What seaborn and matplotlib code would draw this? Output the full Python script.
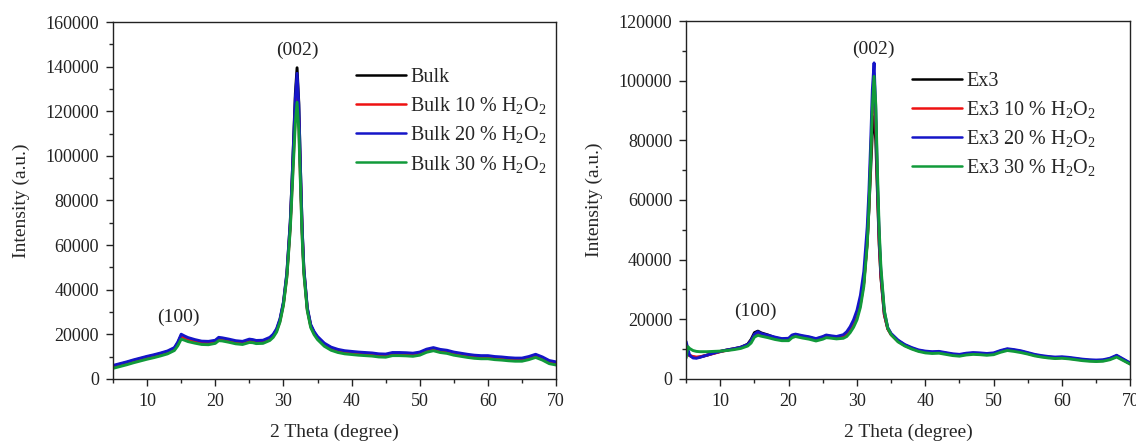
import matplotlib
matplotlib.use("Agg")
import matplotlib.pyplot as plt
import seaborn as sns
import pandas as pd
from matplotlib.ticker import MultipleLocator

# ---- diffraction patterns: 2-theta (degree) and intensity (a.u.) ----
two_theta_bulk = [5, 6, 7, 8, 9, 10, 11, 12, 13, 14, 14.5, 15, 15.5, 16, 17, 18, 19, 20, 20.5, 21,
                  22, 23, 24, 25, 25.5, 26, 27, 28, 28.5, 29, 29.5, 30, 30.5, 31, 31.25, 31.5, 31.75,
                  32, 32.25, 32.5, 32.75, 33, 33.5, 34, 34.5, 35, 36, 37, 38, 39, 40, 41, 42, 43, 44,
                  45, 46, 47, 48, 49, 50, 51, 52, 53, 54, 55, 56, 57, 58, 59, 60, 61, 62, 63, 64, 65,
                  66, 67, 68, 69, 70]

bulk = [5700, 6500, 7300, 8200, 9000, 9800, 10500, 11300, 12200, 13700, 16000, 19500, 18800, 18100,
        17200, 16500, 16400, 16900, 18200, 18000, 17400, 16700, 16400, 17400, 17200, 16800, 16900,
        18200, 19600, 22000, 26500, 34000, 47000, 70000, 88000, 108000, 128000, 139500, 124000, 94000,
        67000, 49000, 31500, 24000, 20800, 18600, 15600, 13800, 12800, 12200, 11900, 11600, 11400,
        11200, 10800, 10700, 11400, 11400, 11300, 11100, 11600, 12900, 13600, 12800, 12400, 11600,
        11100, 10600, 10200, 10000, 10000, 9600, 9400, 9100, 8900, 8900, 9600, 10600, 9400, 7800, 7200]
bulk_10 = [5300, 6100, 6900, 7800, 8600, 9400, 10100, 10900, 11800, 13300, 15600, 19000, 18300, 17600,
           16700, 16100, 16000, 16500, 17800, 17600, 17000, 16300, 16000, 17000, 16800, 16400, 16500,
           17800, 19200, 21600, 26000, 33500, 46000, 68000, 85000, 102000, 119000, 128000, 116000, 89000,
           65000, 48000, 31000, 23600, 20400, 18200, 15200, 13400, 12400, 11800, 11500, 11200, 11000,
           10800, 10400, 10300, 11000, 11000, 10900, 10700, 11200, 12500, 13200, 12400, 12000, 11200,
           10700, 10200, 9800, 9600, 9600, 9200, 9000, 8700, 8500, 8500, 9200, 10200, 9000, 7400, 6800]
bulk_20 = [6000, 6800, 7600, 8500, 9300, 10100, 10800, 11600, 12500, 14000, 16500, 20000, 19200, 18500,
           17600, 16900, 16800, 17300, 18600, 18400, 17800, 17100, 16800, 17800, 17600, 17200, 17300,
           18600, 20000, 22500, 27000, 34500, 47500, 70500, 88000, 107000, 126000, 137000, 123000, 94000,
           67500, 49500, 32000, 24400, 21200, 19000, 16000, 14200, 13200, 12600, 12300, 12000, 11800,
           11600, 11200, 11100, 11800, 11800, 11700, 11500, 12000, 13300, 14000, 13200, 12800, 12000,
           11500, 11000, 10600, 10400, 10400, 10000, 9800, 9500, 9300, 9300, 10000, 11000, 9800, 8200, 7600]
bulk_30 = [4700, 5500, 6300, 7200, 8000, 8800, 9500, 10300, 11200, 12700, 14800, 17800, 17300, 16700,
           16000, 15400, 15300, 15900, 17100, 17000, 16400, 15700, 15400, 16300, 16200, 15800, 15900,
           17200, 18600, 21000, 25500, 33000, 45500, 67000, 83000, 99000, 115000, 124000, 112000, 87000,
           63000, 47000, 30500, 23000, 19800, 17600, 14600, 12800, 11800, 11200, 10900, 10600, 10400,
           10200, 9800, 9700, 10400, 10400, 10300, 10100, 10600, 11900, 12600, 11800, 11400, 10600,
           10100, 9600, 9200, 9000, 9000, 8600, 8400, 8100, 7900, 7900, 8600, 9600, 8400, 6800, 6200]

two_theta_ex3 = [5, 5.25, 5.5, 6, 6.5, 7, 8, 9, 10, 11, 12, 13, 14, 14.5, 15, 15.5, 16, 17, 18, 19, 20,
                 20.5, 21, 22, 23, 24, 25, 25.5, 26, 27, 28, 28.5, 29, 29.5, 30, 30.5, 31, 31.5, 31.75,
                 32, 32.25, 32.5, 32.75, 33, 33.25, 33.5, 34, 34.5, 35, 36, 37, 38, 39, 40, 41, 42, 43,
                 44, 45, 46, 47, 48, 49, 50, 51, 52, 53, 54, 55, 56, 57, 58, 59, 60, 61, 62, 63, 64, 65,
                 66, 67, 68, 69, 70]

ex3 = [9500, 8500, 7800, 7300, 7100, 7300, 7900, 8600, 9200, 9700, 10100, 10600, 11600, 13200, 15500,
       16000, 15400, 14700, 13800, 13300, 13400, 14500, 14800, 14300, 13900, 13300, 14000, 14500, 14300,
       14000, 14500, 15300, 16800, 18600, 21000, 25500, 32500, 46000, 57000, 70000, 83000, 88000, 80000,
       62000, 45000, 34000, 21500, 16800, 14900, 12800, 11300, 10300, 9500, 9100, 8900, 9000, 8600,
       8200, 8000, 8400, 8600, 8500, 8300, 8500, 9300, 9900, 9600, 9200, 8600, 8000, 7600, 7300, 7100,
       7200, 7000, 6700, 6400, 6200, 6100, 6200, 6700, 7700, 6400, 5100]
ex3_10 = [10300, 8800, 7800, 7500, 7300, 7400, 7900, 8500, 9100, 9600, 10000, 10500, 11300, 12600, 14700,
          15400, 14900, 14300, 13700, 13200, 13300, 14300, 14700, 14200, 13800, 13200, 13900, 14400, 14200,
          13900, 14300, 15100, 16600, 18400, 20800, 25000, 32000, 46000, 58000, 74000, 90000, 96000, 86000,
          64000, 46000, 34500, 21700, 16800, 14800, 12600, 11200, 10200, 9400, 9000, 8800, 8900, 8500,
          8100, 7900, 8300, 8500, 8400, 8200, 8400, 9200, 9800, 9500, 9100, 8500, 7900, 7500, 7200, 7000,
          7100, 6900, 6600, 6300, 6100, 6000, 6100, 6600, 7600, 6300, 5000]
ex3_20 = [12500, 10000, 8000, 7000, 6900, 7200, 7900, 8600, 9200, 9700, 10100, 10600, 11500, 12800, 15000,
          15800, 15200, 14600, 14000, 13500, 13600, 14700, 15000, 14500, 14100, 13500, 14200, 14700, 14500,
          14200, 14800, 15800, 17500, 19800, 23000, 28000, 36000, 51000, 63000, 79000, 97000, 106000, 90000,
          66000, 48000, 36000, 22500, 17200, 15200, 13000, 11500, 10500, 9700, 9300, 9100, 9200, 8800,
          8400, 8200, 8600, 8800, 8700, 8500, 8700, 9500, 10100, 9800, 9400, 8800, 8200, 7800, 7500, 7300,
          7400, 7200, 6900, 6600, 6400, 6300, 6400, 6900, 7900, 6600, 5300]
ex3_30 = [7000, 10800, 10200, 9500, 9200, 9100, 9100, 9200, 9300, 9500, 9800, 10200, 11000, 12000, 14000,
          14600, 14300, 13800, 13200, 12800, 12800, 13800, 14200, 13700, 13300, 12700, 13300, 13800, 13700,
          13400, 13600, 14200, 15500, 17300, 19800, 24000, 31000, 45000, 57000, 73000, 91000, 101500, 92000,
          69000, 50000, 37500, 23000, 17000, 14800, 12400, 11000, 10000, 9200, 8700, 8500, 8600, 8200,
          7800, 7600, 8000, 8200, 8100, 7900, 8100, 8900, 9500, 9200, 8800, 8300, 7700, 7300, 7000, 6800,
          6900, 6700, 6400, 6100, 5900, 5800, 5900, 6400, 7300, 6100, 4900]

labels_bulk = ["Bulk", "Bulk 10 % H$_2$O$_2$", "Bulk 20 % H$_2$O$_2$", "Bulk 30 % H$_2$O$_2$"]
labels_ex3 = ["Ex3", "Ex3 10 % H$_2$O$_2$", "Ex3 20 % H$_2$O$_2$", "Ex3 30 % H$_2$O$_2$"]
line_colors = ["#000000", "#ee1111", "#1515c8", "#119a3a"]


def long_table(x, series, labels):
    frames = [pd.DataFrame({"two_theta": x, "intensity": y, "sample": lab})
              for y, lab in zip(series, labels)]
    return pd.concat(frames, ignore_index=True)


df_bulk = long_table(two_theta_bulk, [bulk, bulk_10, bulk_20, bulk_30], labels_bulk)
df_ex3 = long_table(two_theta_ex3, [ex3, ex3_10, ex3_20, ex3_30], labels_ex3)

sns.set_style("ticks")
plt.rcParams["font.family"] = ["Liberation Serif", "DejaVu Serif"]
plt.rcParams["mathtext.fontset"] = "custom"
plt.rcParams["mathtext.rm"] = "Liberation Serif"
plt.rcParams["mathtext.it"] = "Liberation Serif:italic"

fig = plt.figure(figsize=(11.36, 4.41), dpi=100)
ax1 = fig.add_axes([0.0995, 0.141, 0.390, 0.809])
ax2 = fig.add_axes([0.604, 0.141, 0.391, 0.811])

panels = [
    (ax1, df_bulk, labels_bulk, 160000, [(32.0, 147500, "(002)"), (14.6, 27500, "(100)")], (0.53, 0.893)),
    (ax2, df_ex3, labels_ex3, 120000, [(32.4, 110500, "(002)"), (15.1, 22500, "(100)")], (0.49, 0.88)),
]

for ax, df, labels, ymax, notes, leg_anchor in panels:
    sns.lineplot(data=df, x="two_theta", y="intensity", hue="sample", hue_order=labels,
                 palette=line_colors, estimator=None, sort=False, linewidth=2.1, ax=ax)
    ax.set_xlim(5, 70)
    ax.set_ylim(0, ymax)
    ax.xaxis.set_major_locator(MultipleLocator(10))
    ax.xaxis.set_minor_locator(MultipleLocator(5))
    ax.yaxis.set_major_locator(MultipleLocator(20000))
    ax.yaxis.set_minor_locator(MultipleLocator(10000))
    ax.tick_params(which="major", direction="out", length=5, width=1, labelsize=13,
                   colors="#222222", pad=5)
    ax.tick_params(which="minor", direction="out", length=3, width=1)
    for sp in ax.spines.values():
        sp.set_visible(True)
        sp.set_linewidth(1.0)
        sp.set_color("#222222")
    ax.set_xlabel("2 Theta (degree)", fontsize=14, labelpad=10)
    ax.set_ylabel("Intensity (a.u.)", fontsize=14, labelpad=11)
    for x, y, txt in notes:
        ax.text(x, y, txt, ha="center", va="center", fontsize=14, color="#222222")
    leg = ax.legend(loc="upper left", bbox_to_anchor=leg_anchor, frameon=False, fontsize=14.5,
                    handlelength=2.5, handletextpad=0.2, labelspacing=0.4, borderaxespad=0)
    for line in leg.get_lines():
        line.set_linewidth(1.8)

fig.savefig("out.png", dpi=100, facecolor="white")
